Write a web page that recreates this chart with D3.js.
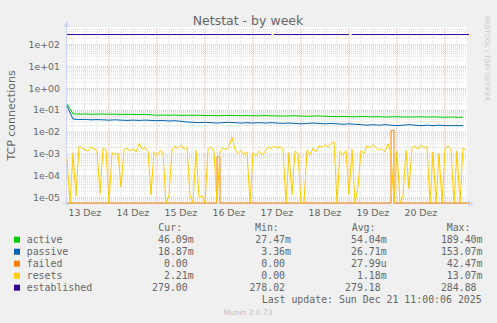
<!DOCTYPE html>
<html>
<head>
<meta charset="utf-8">
<style>
  body { margin: 0; background: #f0f0f0; }
  svg { display: block; }
  text { font-family: "DejaVu Sans", sans-serif; fill: #666; }
  .mono { font-family: "DejaVu Sans Mono", monospace; white-space: pre; font-size: 9.9px; }
</style>
</head>
<body>
<svg width="497" height="323"></svg>
<script src="https://cdn.jsdelivr.net/npm/d3@7/dist/d3.min.js"></script>
<script>
  // time span shown (UTC), one pixel = 30 min
  const tStart = Date.UTC(2025, 11, 13, 3, 20),
        tEnd = Date.UTC(2025, 11, 21, 11, 20);
  const hour = 3600 * 1000;

  // x labels, placed at noon of each day
  const dayNums = [13, 14, 15, 16, 17, 18, 19, 20];
  const dayLabels = ["13 Dez", "14 Dez", "15 Dez", "16 Dez", "17 Dez", "18 Dez", "19 Dez", "20 Dez"];

  // y labels (log axis)
  const yTicks = [1e-5, 1e-4, 1e-3, 1e-2, 1e-1, 1e0, 1e1, 1e2];
  const yLabels = ["1e-05", "1e-04", "1e-03", "1e-02", "1e-01", "1e+00", "1e+01", "1e+02"];

  // series sampled every 3h (values in milli)
  const step6 = 3;
  const active = [185, 66, 64, 65, 63, 64, 65, 63, 64, 62, 63, 62, 61, 62, 60, 57, 58, 57, 58, 56,
    57, 56, 57, 55, 56, 54, 55, 56, 55, 54, 55, 54, 53, 55, 54, 53, 52, 53, 54, 52,
    51, 52, 53, 51, 50, 49, 50, 49, 48, 50, 49, 48, 49, 47, 48, 49, 47, 48, 47, 48,
    47, 48, 47, 46, 47, 46, 46];
  const passive = [150, 38, 36, 37, 35, 36, 35, 34, 35, 34, 33, 34, 33, 34, 33, 32, 33, 31, 32, 30,
    28, 27, 26, 27, 26, 25, 26, 27, 26, 25, 26, 25, 26, 25, 26, 25, 24, 25, 24, 23,
    24, 25, 24, 23, 24, 23, 22, 23, 22, 21, 20, 21, 20, 21, 20, 19, 20, 21, 20, 19,
    20, 19, 20, 19, 19, 19, 19];

  // series sampled every 1.5h (values in milli, 0 = zero)
  const step3 = 1.5;
  const failed = [0, 0, 0, 0, 0, 0, 0, 0, 0, 0,  0, 0, 0, 0, 0, 0, 0, 0, 0, 0,
    0, 0, 0, 0, 0, 0, 0, 0, 0, 0,  0, 0, 0, 0, 0, 0, 0, 0, 0, 0,
    0, 0, 0, 0, 0, 0, 0, 0, 0, 0,  0.7, 0, 0, 0, 0, 0, 0, 0, 0, 0,
    0, 0, 0, 0, 0, 0, 0, 0, 0, 0,  0, 0, 0, 0, 0, 0, 0, 0, 0, 0,
    0, 0, 0, 0, 0, 0, 0, 0, 0, 0,  0, 0, 0, 0, 0, 0, 0, 0, 0, 0,
    0, 0, 0, 0, 0, 0, 0, 0, 11.5, 0,  0, 0, 0, 0, 0, 0, 0, 0, 0, 0,
    0, 0, 0, 0, 0, 0, 0, 0, 0, 0,  0, 0, 0, 0];
  const resets = [0.6, 0, 1.0, 0.011, 2.2, 1.8, 1.5, 1.3, 2.0, 1.6,
    1.4, 0.015, 1.8, 1.5, 0, 1.1, 0.9, 1.0, 0.03, 1.4,
    1.8, 1.3, 1.6, 1.2, 2.9, 1.6, 1.9, 1.3, 0.013, 1.2,
    0.8, 1.4, 1.1, 0, 0.012, 1.5, 2.2, 1.7, 2.4, 1.6,
    2.0, 0.012, 0, 1.4, 0.01, 0.012, 0, 1.6, 2.0, 1.2,
    0, 1.3, 1.8, 1.5, 2.1, 5.5, 1.6, 1.0, 1.4, 0.9,
    1.2, 0, 1.1, 0.8, 1.3, 0.9, 1.2, 2.0, 1.7, 2.3,
    1.8, 2.1, 1.6, 0, 1.1, 0.013, 1.3, 1.0, 0, 0,
    1.5, 0.9, 1.7, 1.2, 2.3, 1.9, 2.6, 2.0, 2.8, 3.6,
    0, 1.3, 0.9, 1.4, 0.014, 1.6, 0, 0.03, 1.4, 1.0,
    2.3, 1.8, 2.6, 1.9, 1.4, 1.7, 1.2, 2.8, 1.0, 0,
    1.3, 0, 0.012, 1.4, 0.025, 1.8, 2.2, 1.6, 2.4, 1.9,
    2.1, 0, 1.2, 0, 1.0, 0, 1.7, 2.3, 1.5, 0,
    1.3, 0, 1.8, 1.4];
  // established (plain count), null = no data
  const established = [279, 279, 280, 279, 279, 279, 280, 279, 279, 279,  279, 279, 279, 280, 279, 279, 279, 279, 278, 279,
    279, 279, 279, 279, 280, 279, 279, 279, 279, 279,  279, 279, 279, 279, 279, 279, 280, 279, 279, 279,
    279, 279, 279, 279, 279, 279, 279, 279, 279, 279,  279, 279, 279, 279, 279, 279, 279, 279, 279, 279,
    279, 279, 279, 279, 279, 279, 279, 279, null, 279,  279, 279, 279, 279, 279, 280, 279, 279, 279, 279,
    279, 279, 279, 279, 279, 279, 279, 279, 279, 279,  279, 279, 279, 279, null, 279, 279, 279, 279, 279,
    279, 279, 279, 279, 279, 279, 279, 279, 279, 279,  279, 279, 279, 279, 279, 279, 279, 279, 279, 279,
    279, 279, 279, 279, 279, 279, 279, 279, 279, 279,  279, 279, 279, 279];

  // legend
  const names = ["active", "passive", "failed", "resets", "established"];
  const colors = ["#00cc00", "#0066b3", "#ff8000", "#ffcc00", "#330099"];
  const curVals = ["46.09m", "18.87m", "0.00\u00a0", "2.21m", "279.00\u00a0"];
  const minVals = ["27.47m", "3.36m", "0.00\u00a0", "0.00\u00a0", "278.02\u00a0"];
  const avgVals = ["54.04m", "26.71m", "27.99u", "1.18m", "279.18\u00a0"];
  const maxVals = ["189.40m", "153.07m", "42.47m", "13.07m", "284.88\u00a0"];

  const svg = d3.select("svg");
  const pLeft = 67, pRight = 467, pTop = 28, pBottom = 203;
  const yMin = 5.5e-6, yMax = 557;

  const x = d3.scaleUtc().domain([tStart, tEnd]).range([pLeft, pRight]);
  const y = d3.scaleLog().domain([yMin, yMax]).range([pBottom, pTop]);
  const yc = v => y(Math.max(v, yMin));

  // white canvas
  svg.append("rect").attr("x", pLeft).attr("y", pTop - 1)
    .attr("width", pRight - pLeft).attr("height", pBottom - pTop + 1).attr("fill", "#fff");

  // grid: minor lines first, then major ones
  const minorY = [];
  for (let k = -6; k <= 2; k++)
    for (let m = 2; m <= 9; m++)
      if (m * 10 ** k > yMin && m * 10 ** k < yMax) minorY.push(m * 10 ** k);
  const minorX = d3.utcHour.every(6).range(tStart, tEnd).filter(d => d.getUTCHours() !== 0);
  const majorX = d3.utcDay.range(tStart, tEnd);

  function grid(g, color) {
    g.select(".domain").remove();
    g.selectAll("text").remove();
    g.selectAll("line").attr("stroke", color).attr("stroke-dasharray", "1,1");
  }
  svg.append("g").attr("transform", `translate(${pLeft},0)`)
    .call(d3.axisLeft(y).tickValues(minorY).tickSize(-(pRight - pLeft)))
    .call(grid, "#dcdcdc");
  svg.append("g").attr("transform", `translate(0,${pBottom})`)
    .call(d3.axisBottom(x).tickValues(minorX).tickSize(-(pBottom - pTop)))
    .call(grid, "#dcdcdc");
  svg.append("g").attr("transform", `translate(${pLeft},0)`)
    .call(d3.axisLeft(y).tickValues(yTicks).tickSize(-(pRight - pLeft)))
    .call(grid, "#f0b0b0");
  svg.append("g").attr("transform", `translate(0,${pBottom})`)
    .call(d3.axisBottom(x).tickValues(majorX).tickSize(-(pBottom - pTop)))
    .call(grid, "#f0b0b0");

  // axis lines with arrows
  const axisCol = "#cfd6f8";
  svg.append("path").attr("d", `M${pLeft - 0.5},${pBottom + 3}V${pTop - 4}M${pLeft - 4},${pBottom + 0.5}H${pRight + 2}`)
    .attr("stroke", axisCol).attr("fill", "none");
  svg.append("path").attr("d", `M${pLeft - 3.5},${pTop - 1}L${pLeft - 0.5},${pTop - 7}L${pLeft + 2.5},${pTop - 1}Z`)
    .attr("fill", axisCol);
  svg.append("path").attr("d", `M${pRight + 1},${pBottom - 2.5}L${pRight + 7},${pBottom + 0.5}L${pRight + 1},${pBottom + 3.5}Z`)
    .attr("fill", axisCol);

  // tick labels
  svg.append("g").attr("transform", `translate(${pLeft},0)`)
    .call(d3.axisLeft(y).tickValues(yTicks).tickFormat((d, i) => yLabels[i]).tickSize(0).tickPadding(7))
    .call(g => g.select(".domain").remove())
    .selectAll("text").attr("font-family", "DejaVu Sans").attr("font-size", 9.4).attr("fill", "#666");
  const noons = dayNums.map(d => new Date(Date.UTC(2025, 11, d, 12)));
  svg.append("g").attr("transform", `translate(0,${pBottom})`)
    .call(d3.axisBottom(x).tickValues(noons).tickFormat((d, i) => dayLabels[i]).tickSize(0).tickPadding(6))
    .call(g => g.select(".domain").remove())
    .selectAll("text").attr("font-family", "DejaVu Sans").attr("font-size", 9.4).attr("fill", "#666");

  // data lines
  const linePts = (vals, stepH, scale) =>
    vals.map((v, i) => ({ t: tStart + i * stepH * hour, v: v == null ? null : v * scale }));
  const stepPts = (vals, stepH, scale) => {
    const pts = [];
    vals.forEach((v, i) => {
      const t = tStart + i * stepH * hour;
      const val = v == null ? null : v * scale;
      pts.push({ t, v: val }, { t: t + stepH * hour, v: val });
    });
    return pts;
  };
  const line = d3.line().defined(d => d.v != null).x(d => x(d.t)).y(d => yc(d.v));

  const series = [
    { pts: linePts(active, step6, 1e-3), color: colors[0] },
    { pts: linePts(passive, step6, 1e-3), color: colors[1] },
    { pts: stepPts(failed, step3, 1e-3), color: colors[2] },
    { pts: linePts(resets, step3, 1e-3), color: colors[3] },
    { pts: stepPts(established, step3, 1), color: colors[4] }
  ];
  svg.append("g").selectAll("path")
    .data(series)
    .join("path")
    .attr("d", d => line(d.pts))
    .attr("fill", "none")
    .attr("stroke", d => d.color)
    .attr("stroke-width", 1);

  // title and labels
  svg.append("text").attr("x", 248).attr("y", 24.5).attr("text-anchor", "middle")
    .attr("font-size", 12.5).text("Netstat - by week");
  svg.append("text").attr("transform", "translate(15,115.5) rotate(-90)").attr("text-anchor", "middle")
    .attr("font-size", 11).text("TCP connections");
  svg.append("text").attr("transform", "translate(485,15) rotate(90)")
    .attr("font-size", 6.7).style("fill", "#c8c8c8").text("RRDTOOL / TOBI OETIKER");

  // legend
  const colStart = [158.3, 255, 351.7, 446.7];
  const colEnd = [193.7, 291, 386.7, 482.5];
  ["Cur:", "Min:", "Avg:", "Max:"].forEach((h, i) => {
    svg.append("text").attr("class", "mono").attr("x", colStart[i]).attr("y", 231).text(h);
  });
  const rows = svg.append("g").selectAll("g")
    .data(names)
    .join("g")
    .attr("transform", (d, i) => `translate(0,${243 + i * 12})`);
  rows.append("rect").attr("x", 14).attr("y", -6.3).attr("width", 6).attr("height", 6)
    .attr("fill", (d, i) => colors[i]);
  rows.append("text").attr("class", "mono").attr("x", 26.7).text(d => d);
  [curVals, minVals, avgVals, maxVals].forEach((vals, c) => {
    rows.append("text").attr("class", "mono").attr("x", colEnd[c]).attr("text-anchor", "end")
      .text((d, i) => vals[i]);
  });
  svg.append("text").attr("class", "mono").attr("x", 261.7).attr("y", 303)
    .text("Last update: Sun Dec 21 11:00:06 2025");
  svg.append("text").attr("x", 248).attr("y", 314.5).attr("text-anchor", "middle")
    .attr("font-size", 7.5).style("fill", "#c0c0c0").text("Munin 2.0.73");
</script>
</body>
</html>
